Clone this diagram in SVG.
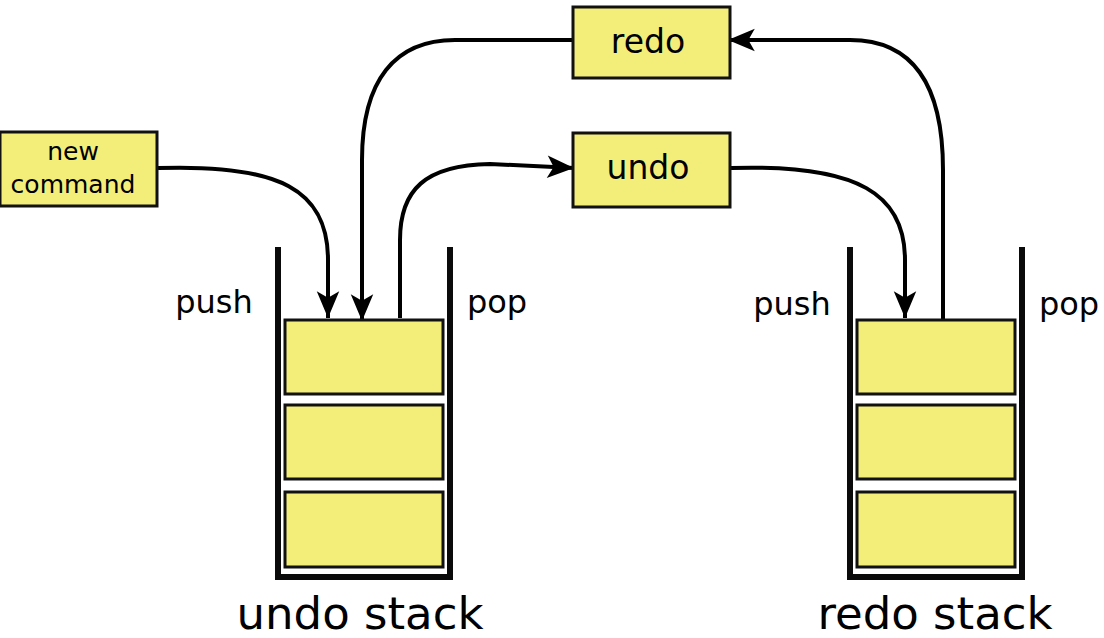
<svg xmlns="http://www.w3.org/2000/svg" width="1104" height="638" viewBox="0 0 1104 638">
<style>
.box{fill:#f3ee7a;stroke:#111;stroke-width:3}
.cell{fill:#f3ee7a;stroke:#111;stroke-width:3}
.wall{fill:none;stroke:#0a0a0a;stroke-width:6;stroke-linejoin:miter}
.t{font-family:"DejaVu Sans",sans-serif;fill:#000;text-anchor:middle}
.conn{fill:none;stroke:#000;stroke-width:4}
</style>
<defs>
<marker id="ah" markerUnits="userSpaceOnUse" markerWidth="30" markerHeight="30" viewBox="-26 -11 28 22" refX="0" refY="0" orient="auto">
<path d="M0,0 L-25,-10.5 L-19,0 L-25,10.5 Z" fill="#000"/>
</marker>
</defs>
<rect width="1104" height="638" fill="#fff"/>
<g id="connectors">
<path class="conn" marker-end="url(#ah)" d="M158,168 C280,164 328,190 328,260 L328,318"/>
<path class="conn" marker-end="url(#ah)" d="M573,40 L455,40 C395,40 362,80 362,160 L362,321"/>
<path class="conn" marker-end="url(#ah)" d="M400,318 L400,240 C400,190 425,165 490,164 L574,168"/>
<path class="conn" marker-end="url(#ah)" d="M731,168 C860,164 905,195 905,260 L905,318"/>
<path class="conn" marker-end="url(#ah)" d="M943,320 L943,170 C943,80 910,40 850,40 L728,40"/>
</g>
<g id="new-command">
<rect class="box" x="0" y="132" width="157" height="74"/>
<text class="t" x="73" y="160" font-size="25">new</text>
<text class="t" x="73" y="193" font-size="25">command</text>
</g>
<g id="redo">
<rect class="box" x="573" y="7" width="157" height="71"/>
<text class="t" x="648" y="53" font-size="33">redo</text>
</g>
<g id="undo">
<rect class="box" x="573" y="133" width="157" height="74"/>
<text class="t" x="648" y="179" font-size="33">undo</text>
</g>
<g id="undo-stack">
<path class="wall" d="M278,247 L278,577 L450,577 L450,247"/>
<rect class="cell" x="285" y="320" width="158" height="74"/>
<rect class="cell" x="285" y="405" width="158" height="74"/>
<rect class="cell" x="285" y="492" width="158" height="75"/>
<text class="t" x="214" y="313" font-size="32">push</text>
<text class="t" x="497" y="313" font-size="32">pop</text>
<text class="t" x="360" y="629" font-size="45">undo stack</text>
</g>
<g id="redo-stack">
<path class="wall" d="M850,247 L850,577 L1022,577 L1022,247"/>
<rect class="cell" x="857" y="320" width="158" height="74"/>
<rect class="cell" x="857" y="405" width="158" height="74"/>
<rect class="cell" x="857" y="492" width="158" height="75"/>
<text class="t" x="792" y="315" font-size="32">push</text>
<text class="t" x="1069" y="315" font-size="32">pop</text>
<text class="t" x="935" y="629" font-size="45">redo stack</text>
</g>
</svg>
